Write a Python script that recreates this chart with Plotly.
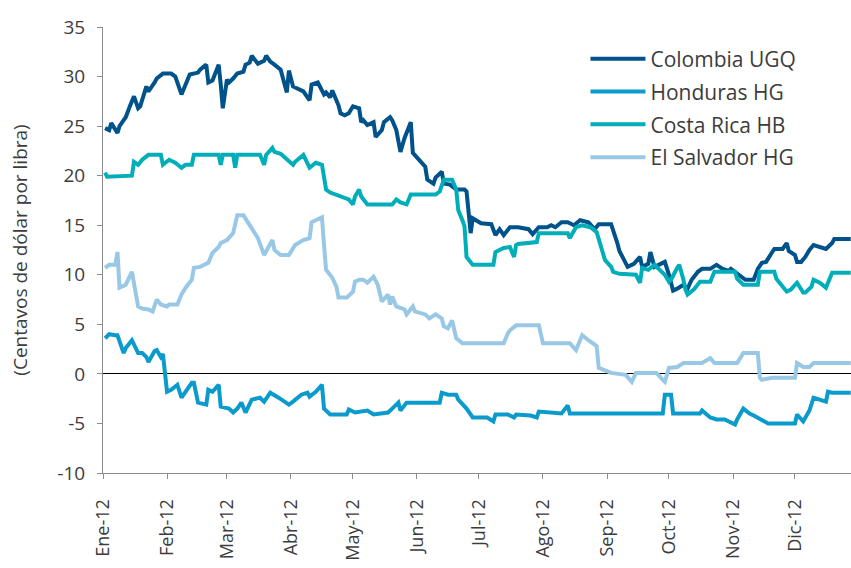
import pandas as pd
import plotly.graph_objects as go

# x values: day offsets from 1 Jan 2012
col_days = [1,3,4,7,8,11,13,15,17,18,21,22,25,26,29,33,35,38,39,42,46,47,50,51,53,56,57,58,60,61,63,65,68,69,71,72,75,78,79,81,83,86,89,90,92,94,97,100,101,104,106,107,108,110,111,114,115,117,119,121,124,125,126,128,131,132,135,136,139,140,142,144,146,149,150,153,156,157,160,161,164,165,168,171,175,176,178,179,181,183,188,190,192,194,197,201,206,208,211,215,217,219,222,225,228,231,235,238,240,246,249,250,254,257,260,261,264,265,267,269,272,274,276,278,281,283,285,288,290,294,297,300,303,304,308,311,315,317,319,321,324,325,329,331,332,335,336,338,340,342,344,347,350,353,354,362]
col_vals = [24.8,24.6,25.3,24.3,25.0,25.9,27.0,28.0,26.8,27.0,29.0,28.5,29.4,29.8,30.3,30.3,30.0,28.2,28.7,30.2,30.4,30.7,31.2,29.4,29.6,31.2,29.2,26.8,29.7,29.4,29.8,30.3,30.5,31.2,31.4,32.1,31.3,31.6,32.1,31.5,31.2,30.7,28.4,30.6,29.0,28.8,28.5,27.6,29.2,29.4,28.7,28.2,28.4,27.9,28.6,27.1,26.3,26.1,26.3,27.0,26.8,25.4,25.6,25.1,25.4,23.9,24.6,25.4,25.9,25.6,24.6,22.4,23.8,25.4,22.3,21.6,20.9,19.6,19.2,19.8,20.4,19.2,19.1,18.6,18.6,18.4,14.2,15.7,15.4,15.2,15.1,14.0,14.6,14.0,14.8,14.8,14.6,14.1,14.8,14.8,15.0,14.8,15.3,15.3,15.0,15.5,15.3,14.6,15.1,15.1,13.2,12.4,10.8,11.1,11.8,10.8,11.1,12.3,10.8,11.0,11.3,10.0,8.4,8.6,9.0,8.6,9.5,10.3,10.6,10.6,11.0,10.6,10.4,10.6,10.0,9.5,9.5,10.6,11.2,11.3,12.3,12.6,12.6,13.2,12.4,12.0,11.3,11.3,11.8,12.5,13.0,12.8,12.6,13.2,13.6,13.6]

hon_days = [1,3,6,7,10,11,14,17,19,21,22,25,26,28,29,31,33,36,38,40,43,44,46,50,51,53,56,57,60,61,63,65,67,69,72,76,78,81,85,88,90,92,96,99,100,103,106,107,110,118,119,122,128,131,138,140,143,144,147,163,164,167,171,172,176,179,186,189,190,196,199,200,207,210,211,222,225,226,271,272,275,276,289,290,294,297,301,306,307,310,313,315,319,322,335,336,339,342,344,349,350,351,353,362]
hon_vals = [3.6,4.0,3.9,3.9,2.1,2.6,3.4,2.1,2.1,1.7,1.2,2.3,2.4,1.7,2.0,-1.8,-1.6,-1.1,-2.4,-1.8,-0.9,-0.9,-2.9,-3.1,-1.6,-1.8,-1.1,-3.3,-3.5,-3.5,-3.9,-3.5,-2.9,-3.9,-2.6,-2.4,-2.8,-1.9,-2.4,-2.8,-3.1,-2.8,-2.1,-1.9,-2.3,-1.8,-1.1,-3.5,-4.1,-4.1,-3.6,-3.9,-3.7,-4.1,-3.9,-3.5,-2.9,-3.7,-2.9,-2.9,-1.9,-2.1,-2.1,-2.6,-3.5,-4.4,-4.4,-4.8,-4.1,-4.1,-4.4,-4.1,-4.2,-4.4,-3.8,-4.0,-3.2,-4.0,-4.0,-2.1,-2.1,-4.0,-4.0,-3.7,-4.4,-4.6,-4.6,-5.1,-4.6,-3.5,-4.0,-4.2,-4.6,-5.0,-5.0,-4.1,-4.8,-3.7,-2.4,-2.8,-2.8,-1.8,-1.9,-1.9]

cr_days = [1,2,14,15,17,19,22,28,29,31,32,35,38,40,43,44,56,57,58,63,64,65,76,78,79,82,83,86,88,92,93,97,100,103,106,107,108,110,115,119,121,122,124,125,128,140,142,144,147,149,161,163,165,169,171,172,174,175,176,179,189,190,194,197,199,200,201,210,211,225,226,228,229,232,236,239,240,242,243,246,247,250,258,260,261,264,267,269,272,274,275,278,279,281,282,283,286,289,294,296,306,307,310,317,318,325,326,331,333,336,339,340,343,344,347,350,353,362]
cr_vals = [20.3,19.9,20.0,21.4,21.1,21.6,22.1,22.1,21.1,21.4,21.6,21.3,20.8,21.1,21.1,22.1,22.1,21.1,22.1,22.1,20.8,22.1,22.1,21.1,22.1,22.8,22.4,22.2,21.8,21.1,21.4,22.1,20.8,21.3,21.1,19.9,18.6,18.3,17.9,17.6,17.1,17.9,18.6,17.9,17.1,17.1,17.6,17.3,17.1,18.1,18.1,18.4,19.6,19.6,18.6,16.5,15.5,14.9,11.8,11.0,11.0,12.3,12.7,12.8,11.8,13.0,13.1,13.3,14.2,14.2,13.7,14.5,14.8,15.0,14.8,14.3,13.5,12.2,11.5,10.8,10.3,10.1,10.0,9.2,10.7,10.5,11.0,10.6,10.0,9.3,9.5,10.7,11.0,9.5,8.5,8.0,8.5,9.3,9.3,10.3,10.3,9.6,9.0,9.0,10.3,10.3,9.6,8.3,8.5,9.2,8.2,8.2,8.8,9.5,9.2,8.7,10.2,10.2]

sal_days = [1,3,6,7,8,11,14,15,17,19,22,24,26,28,31,32,36,38,40,43,44,47,51,53,56,57,60,63,64,65,68,71,72,75,78,81,82,83,86,90,92,93,97,100,101,106,107,108,111,113,114,118,121,122,124,126,128,131,133,135,138,139,140,142,146,147,150,151,156,158,161,164,165,167,169,171,174,194,196,197,200,211,213,226,229,232,235,239,240,246,253,256,258,268,271,272,274,278,281,290,294,296,307,310,317,318,319,324,335,336,339,342,344,362]
sal_vals = [10.7,11.0,11.0,12.3,8.7,9.0,10.3,9.3,6.8,6.6,6.5,6.3,7.5,7.0,6.8,7.0,7.0,8.0,8.7,9.5,10.7,10.8,11.2,12.2,12.8,13.2,13.5,14.2,15.0,16.0,16.0,15.0,14.7,13.7,12.0,13.0,13.5,12.5,12.0,12.0,12.8,13.0,13.5,13.7,15.3,15.8,13.0,10.5,9.7,8.8,7.7,7.7,8.3,9.3,9.5,9.5,9.2,9.8,9.0,7.3,8.0,7.0,7.8,6.8,6.5,6.0,6.8,6.3,6.0,5.6,6.0,5.6,4.8,4.6,5.4,3.6,3.1,3.1,4.1,4.4,4.9,4.9,3.1,3.1,2.4,3.9,3.4,2.8,0.6,0.1,-0.1,-0.8,0.1,0.1,-0.6,-0.8,0.6,0.7,1.1,1.1,1.6,1.1,1.1,2.1,2.1,-0.4,-0.6,-0.4,-0.4,1.1,0.7,0.7,1.1,1.1]

series_names = ["Colombia UGQ", "Honduras HG", "Costa Rica HB", "El Salvador HG"]
series_colors = ["#00528A", "#0A9ACB", "#00AEB9", "#98C8E6"]
month_ticks = ["2012-%02d-01" % m for m in range(1, 13)]
month_labels = ["Ene-12", "Feb-12", "Mar-12", "Abr-12", "May-12", "Jun-12",
                "Jul-12", "Ago-12", "Sep-12", "Oct-12", "Nov-12", "Dic-12"]
y_ticks = [35, 30, 25, 20, 15, 10, 5, 0, -5, -10]
y_labels = ["35", "30", "25", "20", "15", "10", "5", "0", "-5", "-10"]

start = pd.Timestamp("2012-01-01")
def to_dates(days):
    return start + pd.to_timedelta(days, unit="D")

data = [(col_days, col_vals), (hon_days, hon_vals), (cr_days, cr_vals), (sal_days, sal_vals)]

FONT = "Open Sans"
TXT = "#3c3c3c"

fig = go.Figure()
for (d, v), name, c in zip(data, series_names, series_colors):
    fig.add_trace(go.Scatter(x=to_dates(d), y=v, mode="lines", name=name,
                             legendgroup=name,
                             line=dict(color=c, width=4)))

fig.update_layout(
    width=851, height=568,
    margin=dict(l=103, r=0, t=27, b=95),
    plot_bgcolor="white", paper_bgcolor="white",
    font=dict(family=FONT, color=TXT),
    showlegend=True,
    legend=dict(x=0.645, y=0.974, xanchor="left", yanchor="top",
                font=dict(size=21, family=FONT, color=TXT),
                bgcolor="rgba(0,0,0,0)", itemwidth=55, tracegroupgap=2.5),
    xaxis=dict(type="date", range=["2012-01-01", "2012-12-28 03:00"],
               tickvals=month_ticks, ticktext=month_labels, tickangle=-90,
               tickfont=dict(size=18, family=FONT, color=TXT),
               showline=True, linecolor="#8c8c8c", linewidth=1,
               ticks="outside", ticklen=5, tickcolor="#8c8c8c",
               ticklabelstandoff=13, automargin=False,
               showgrid=False, zeroline=False),
    yaxis=dict(range=[-10, 35], tickvals=y_ticks, ticktext=y_labels,
               tickfont=dict(size=19, family=FONT, color=TXT),
               showline=True, linecolor="#8c8c8c", linewidth=1,
               ticks="outside", ticklen=5, tickcolor="#8c8c8c",
               ticklabelstandoff=8, automargin=False,
               showgrid=False, zeroline=True, zerolinecolor="#000000", zerolinewidth=1,
               title=dict(text="(Centavos de dólar por libra)", standoff=24,
                          font=dict(size=19, family=FONT, color=TXT))),
)

fig.write_html("out.html", config={"displayModeBar": False},
               post_script="document.body.style.margin='0px';")
